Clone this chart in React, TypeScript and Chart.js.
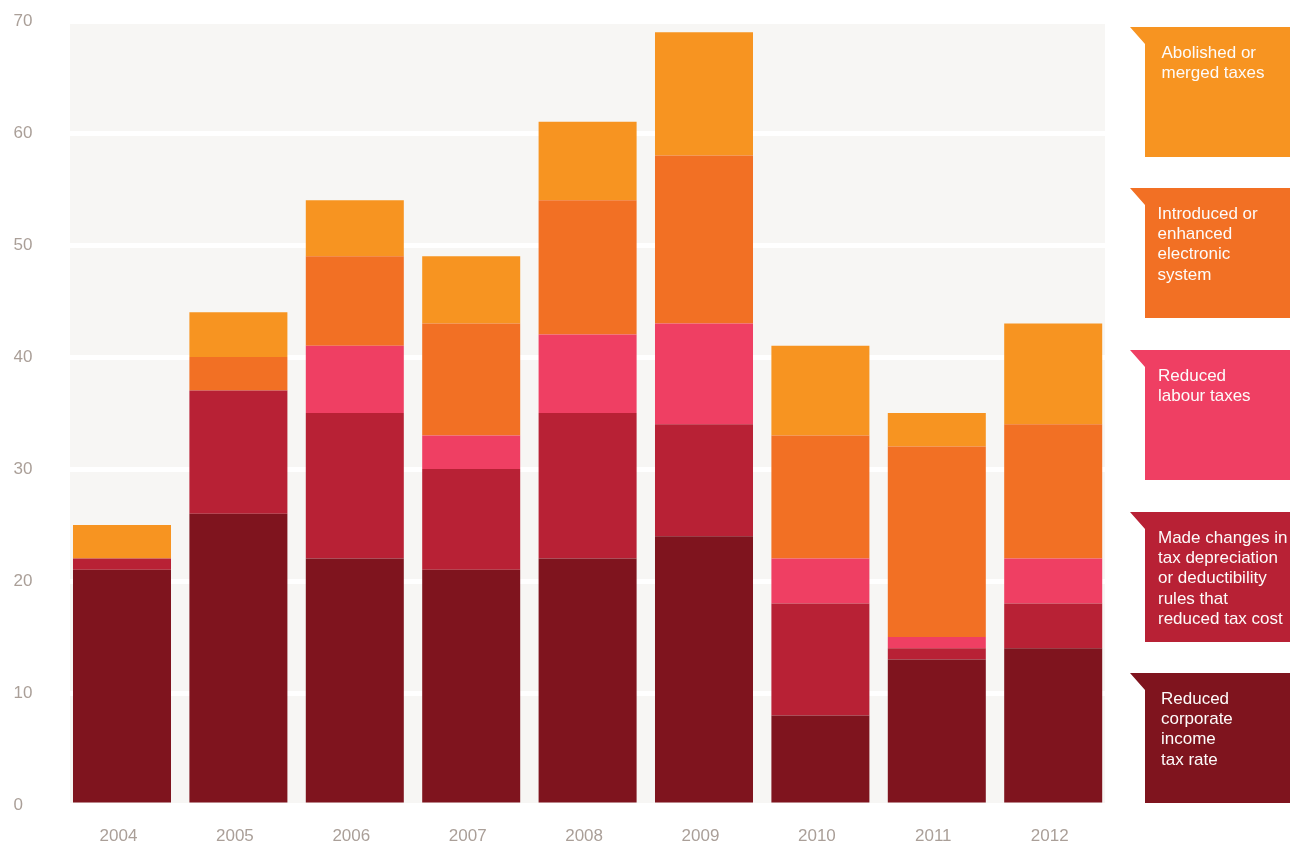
import React, { useEffect, useRef } from "react";
import { Chart, registerables } from "chart.js";

Chart.register(...registerables);

const years = ["2004", "2005", "2006", "2007", "2008", "2009", "2010", "2011", "2012"];
const corporateRate = [21, 26, 22, 21, 22, 24, 8, 13, 14];
const depreciationRules = [1, 11, 13, 9, 13, 10, 10, 1, 4];
const labourTaxes = [0, 0, 6, 3, 7, 9, 4, 1, 4];
const electronicSystem = [0, 3, 8, 10, 12, 15, 11, 17, 12];
const abolishedTaxes = [3, 4, 5, 6, 7, 11, 8, 3, 9];
const yTicks = [0, 10, 20, 30, 40, 50, 60, 70];

const legendAbolished = ["Abolished or", "merged taxes"];
const legendElectronic = ["Introduced or", "enhanced", "electronic", "system"];
const legendLabour = ["Reduced", "labour taxes"];
const legendDepreciation = ["Made changes in", "tax depreciation", "or deductibility", "rules that", "reduced tax cost"];
const legendCorporate = ["Reduced", "corporate", "income", "tax rate"];

const COLORS = {
  corporate: "#7f141e",
  depreciation: "#b82135",
  labour: "#ef3f63",
  electronic: "#f27024",
  abolished: "#f79421",
};

const FONT = '"Liberation Sans", Arial, Helvetica, sans-serif';

export default function App() {
  const ref = useRef<HTMLCanvasElement | null>(null);

  useEffect(() => {
    document.body.style.margin = "0";
    const canvas = ref.current;
    if (!canvas) return;

    const legendItems = [
      { lines: legendAbolished, color: COLORS.abolished, top: 27, tx: 16.5 },
      { lines: legendElectronic, color: COLORS.electronic, top: 188, tx: 12.5 },
      { lines: legendLabour, color: COLORS.labour, top: 350, tx: 13 },
      { lines: legendDepreciation, color: COLORS.depreciation, top: 512, tx: 13 },
      { lines: legendCorporate, color: COLORS.corporate, top: 673, tx: 16 },
    ];

    const bgPlugin = {
      id: "plotBg",
      beforeDraw(chart: any) {
        const { ctx, chartArea } = chart;
        ctx.save();
        ctx.fillStyle = "#f7f6f4";
        ctx.fillRect(chartArea.left + 6.2, chartArea.top, chartArea.right - chartArea.left - 12.6, chartArea.bottom - chartArea.top);
        ctx.restore();
      },
    };

    const legendPlugin = {
      id: "flagLegend",
      afterDraw(chart: any) {
        const ctx = chart.ctx;
        ctx.save();
        const boxLeft = 1145;
        const notchLeft = 1130;
        const right = 1290;
        const h = 130;
        legendItems.forEach((it) => {
          ctx.fillStyle = it.color;
          ctx.beginPath();
          ctx.moveTo(notchLeft, it.top);
          ctx.lineTo(right, it.top);
          ctx.lineTo(right, it.top + h);
          ctx.lineTo(boxLeft, it.top + h);
          ctx.lineTo(boxLeft, it.top + 17);
          ctx.closePath();
          ctx.fill();
          ctx.fillStyle = "#fdfbfa";
          ctx.font = `17px ${FONT}`;
          ctx.textAlign = "left";
          ctx.textBaseline = "alphabetic";
          it.lines.forEach((line, i) => {
            ctx.fillText(line, boxLeft + it.tx, it.top + 31 + i * 20.2);
          });
        });
        ctx.restore();
      },
    };

    const chart = new Chart(canvas, {
      type: "bar",
      data: {
        labels: years,
        datasets: [
          { label: legendCorporate.join(" "), data: corporateRate, backgroundColor: COLORS.corporate },
          { label: legendDepreciation.join(" "), data: depreciationRules, backgroundColor: COLORS.depreciation },
          { label: legendLabour.join(" "), data: labourTaxes, backgroundColor: COLORS.labour },
          { label: legendElectronic.join(" "), data: electronicSystem, backgroundColor: COLORS.electronic },
          { label: legendAbolished.join(" "), data: abolishedTaxes, backgroundColor: COLORS.abolished },
        ],
      },
      options: {
        responsive: false,
        animation: false,
        layout: { padding: { left: 13.5, right: 178.6, top: 21, bottom: 0 } },
        datasets: { bar: { barPercentage: 0.842, categoryPercentage: 1, borderWidth: 0 } },
        plugins: { legend: { display: false }, tooltip: { enabled: false }, title: { display: false } },
        scales: {
          x: {
            stacked: true,
            grid: { display: false, drawTicks: false },
            border: { display: false },
            ticks: {
              color: "#aa9f98",
              font: { family: FONT, size: 17, lineHeight: 19 / 17 },
              padding: 22,
              labelOffset: -3.5,
            },
            afterFit(scale: any) {
              scale.height = 41;
            },
          },
          y: {
            stacked: true,
            min: 0,
            max: 70,
            afterBuildTicks(scale: any) {
              scale.ticks = yTicks.map((v) => ({ value: v }));
            },
            grid: { color: "#ffffff", lineWidth: 5, drawTicks: false },
            border: { display: false },
            ticks: {
              color: "#aa9f98",
              font: { family: FONT, size: 17 },
              crossAlign: "far",
              padding: 0,
            },
            afterFit(scale: any) {
              scale.width = 50.3;
            },
          },
        },
      },
      plugins: [bgPlugin, legendPlugin],
    });

    return () => chart.destroy();
  }, []);

  return (
    <div style={{ width: 1290, height: 846 }}>
      <canvas ref={ref} width={1290} height={846} style={{ display: "block", width: 1290, height: 846 }} />
    </div>
  );
}
